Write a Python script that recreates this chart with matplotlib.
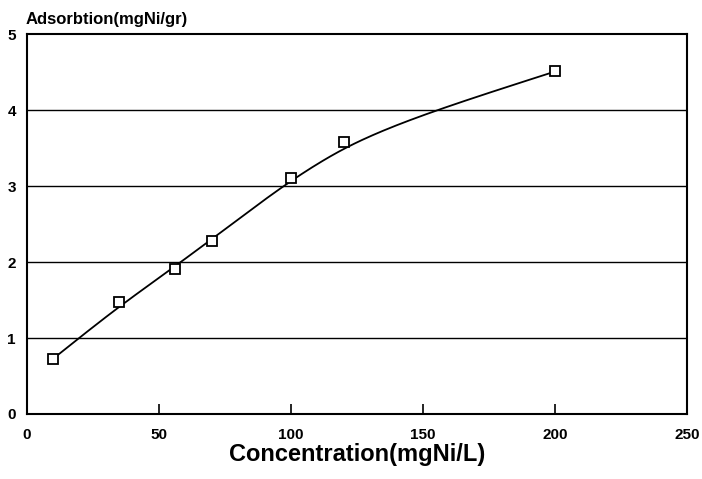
import numpy as np
import matplotlib
matplotlib.use("Agg")
import matplotlib.pyplot as plt

# measured points
conc = [10, 35, 56, 70, 100, 120, 200]
adsorb = [0.72, 1.47, 1.91, 2.28, 3.10, 3.58, 4.51]

x_ticks = [0, 50, 100, 150, 200, 250]
y_ticks = [0, 1, 2, 3, 4, 5]


def smooth_line(x, y, lam2=3000.0, lam1=7.0):
    """
    Smoothing curve under tension on a 1-unit grid (for the drawn trend line)
    """
    grid = np.arange(x[0], x[-1] + 1, 1.0)
    n = len(grid)
    w = np.zeros(n)
    z = np.zeros(n)
    for xi, yi in zip(x, y):
        k = int(round(xi - x[0]))
        w[k] = 1.0
        z[k] = yi
    w[0] = w[-1] = 20.0   # pin the ends
    D1 = np.diff(np.eye(n), 1, axis=0)
    D2 = np.diff(np.eye(n), 2, axis=0)
    A = np.diag(w) + lam2 * D2.T @ D2 + lam1 * D1.T @ D1
    f = np.linalg.solve(A, w * z)
    return grid, f


plt.rcParams['font.family'] = ['Liberation Sans', 'DejaVu Sans']

fig = plt.figure(figsize=(7.02, 4.79), dpi=100)
ax = fig.add_axes([0.0385, 0.1357, 0.9401, 0.7933])

gx, gy = smooth_line(conc, adsorb)
ax.plot(gx, gy, color='black', linewidth=1.3, zorder=3)
ax.plot(conc, adsorb, linestyle='none', marker='s', markersize=7,
        markerfacecolor='white', markeredgecolor='black', markeredgewidth=1.3, zorder=4)

for yv in y_ticks[1:-1]:
    ax.axhline(yv, color='black', linewidth=1.0, zorder=1)

ax.set_xlim(0, 250)
ax.set_ylim(0, 5)
ax.set_xticks(x_ticks)
ax.set_yticks(y_ticks)
ax.tick_params(axis='x', direction='in', length=7, width=1.2, pad=10, labelsize=11)
ax.tick_params(axis='y', length=0, pad=8, labelsize=11)
for lab in ax.get_xticklabels() + ax.get_yticklabels():
    lab.set_fontweight('bold')
for s in ax.spines.values():
    s.set_linewidth(1.5)

ax.set_xlabel("Concentration(mgNi/L)", fontsize=17, fontweight='bold', labelpad=1)
fig.text(0.036, 0.96, "Adsorbtion(mgNi/gr)", fontsize=12, fontweight='bold',
         ha='left', va='center')

fig.savefig("out.png", dpi=100)
